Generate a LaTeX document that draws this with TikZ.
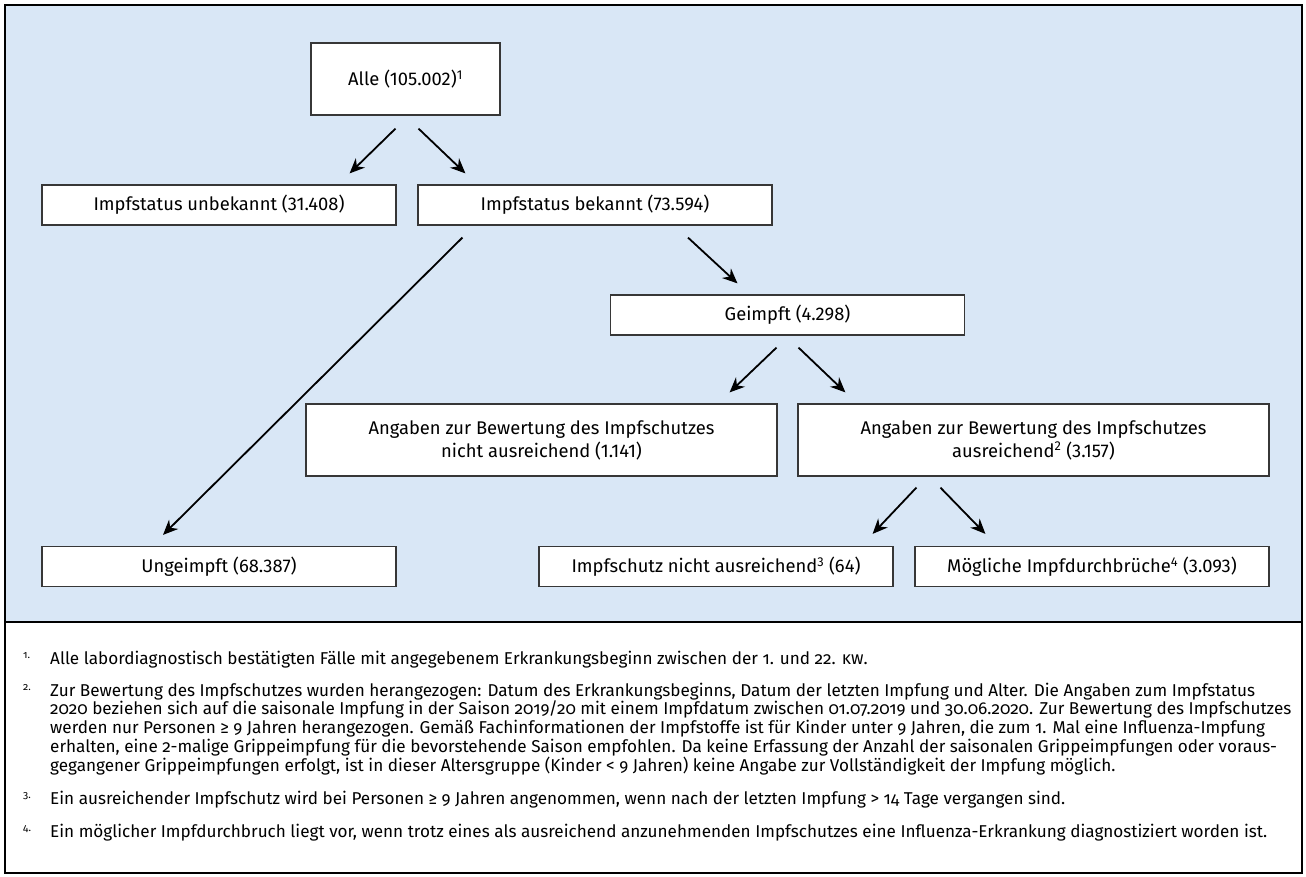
\documentclass[tikz,border=0pt]{standalone}
\usepackage{fontspec}
\setmainfont{Fira Sans}
\newfontfamily\notefont[Numbers=OldStyle]{Fira Sans}
\usepackage{tikz}
\usetikzlibrary{arrows.meta}
\definecolor{panelblue}{RGB}{217,231,246}
\definecolor{boxgray}{RGB}{55,55,55}
\newlength\probewd
\tikzset{
  flow-box/.style={draw=boxgray, line width=1.2pt, fill=white,
    minimum width=354pt, minimum height=40pt, inner sep=0pt,
    font=\fontsize{\boxsize}{23}\selectfont, align=center},
  wide-box/.style={flow-box, minimum width=471pt, minimum height=72pt},
  flow-arrow/.style={-{Stealth[length=15pt,width=13pt]}, line width=1.8pt, draw=black},
  note-mark/.style={font=\notefont\fontsize{10.5}{10.5}\selectfont, anchor=base west, inner sep=0pt},
  note-text/.style={font=\notefont\fontsize{\notesize}{18.7}\selectfont, align=left,
    anchor=base west, inner sep=0pt}
}

\begin{document}
% font sizes fitted to the measured text widths of the reference
\settowidth\probewd{\fontsize{10}{10}\selectfont Impfstatus unbekannt (31.408)}
\pgfmathsetmacro\boxsize{10*251/\probewd}
\settowidth\probewd{\notefont\fontsize{10}{10}\selectfont Ein möglicher Impfdurchbruch liegt vor, wenn trotz eines als ausreichend anzunehmenden Impfschutzes eine Influenza-Erkrankung diagnostiziert worden ist.}
\pgfmathsetmacro\notesizea{10*1217/\probewd}
\settowidth\probewd{\notefont\fontsize{10}{10}\selectfont Zur Bewertung des Impfschutzes wurden herangezogen: Datum des Erkrankungsbeginns, Datum der letzten Impfung und Alter. Die Angaben zum Impfstatus}
\pgfmathsetmacro\notesizeb{10*1218/\probewd}
\pgfmathsetmacro\notesize{min(\notesizea,\notesizeb)}
\begin{tikzpicture}[x=1pt,y=-1pt]
\useasboundingbox (0,0) rectangle (1306,877);
% blue panel for the flow chart, white strip for the notes
\fill[panelblue] (5,5) rectangle (1302,622);
\draw[line width=1.4pt] (5,5) rectangle (1302,873);
\draw[line width=1.4pt] (5,622) -- (1302,622);
% boxes of the flow chart
\node[flow-box, minimum width=189pt, minimum height=72pt] (alle) at (405.5,79) {Alle (105.002)\textsuperscript{1}};
\node[flow-box] (unbekannt) at (219,205) {Impfstatus unbekannt (31.408)};
\node[flow-box] (bekannt)   at (595,205) {Impfstatus bekannt (73.594)};
\node[flow-box] (geimpft)   at (787.5,315) {Geimpft (4.298)};
\node[wide-box] (nichtausr) at (541.5,440) {Angaben zur Bewertung des Impfschutzes\\nicht ausreichend (1.141)};
\node[wide-box] (ausr)      at (1033.5,440) {Angaben zur Bewertung des Impfschutzes\\ausreichend\textsuperscript{2} (3.157)};
\node[flow-box] (ungeimpft) at (219,566.5) {Ungeimpft (68.387)};
\node[flow-box] (schutznicht) at (716,566.5) {Impfschutz nicht ausreichend\textsuperscript{3} (64)};
\node[flow-box] (durchbruch)  at (1092,566.5) {Mögliche Impfdurchbrüche\textsuperscript{4} (3.093)};
% arrows, free-standing between the boxes
\draw[flow-arrow] ([xshift=-10pt,yshift=-13pt]alle.south) -- ([xshift=-47pt,yshift=11pt]unbekannt.north east);
\draw[flow-arrow] ([xshift=13pt,yshift=-13pt]alle.south) -- ([xshift=48pt,yshift=11pt]bekannt.north west);
\draw[flow-arrow] ([xshift=45pt,yshift=-12pt]bekannt.south west) -- ([xshift=-56pt,yshift=11pt]ungeimpft.north);
\draw[flow-arrow] ([xshift=93pt,yshift=-12pt]bekannt.south) -- ([xshift=-50pt,yshift=11pt]geimpft.north);
\draw[flow-arrow] ([xshift=-11pt,yshift=-12pt]geimpft.south) -- ([xshift=-48pt,yshift=11pt]nichtausr.north east);
\draw[flow-arrow] ([xshift=11pt,yshift=-12pt]geimpft.south) -- ([xshift=48pt,yshift=11pt]ausr.north west);
\draw[flow-arrow] ([xshift=119pt,yshift=-11pt]ausr.south west) -- ([xshift=-21pt,yshift=12pt]schutznicht.north east);
\draw[flow-arrow] ([xshift=143pt,yshift=-11pt]ausr.south west) -- ([xshift=71pt,yshift=12pt]durchbruch.north west);
% notes (marks sit raised; the base of a multi-line note is its last line)
\node[note-mark] (m1) at (23,658) {1.};
\node[note-text] (n1) at (50,664) {Alle labordiagnostisch bestätigten Fälle mit angegebenem Erkrankungsbeginn zwischen der 1. und 22. \textsc{kw}.};
\node[note-mark] (m2) at (23,690) {2.};
\node[note-text] (n2) at (50,771) {Zur Bewertung des Impfschutzes wurden herangezogen: Datum des Erkrankungsbeginns, Datum der letzten Impfung und Alter. Die Angaben zum Impfstatus\\
2020 beziehen sich auf die saisonale Impfung in der Saison 2019/20 mit einem Impfdatum zwischen 01.07.2019 und 30.06.2020. Zur Bewertung des Impfschutzes\\
werden nur Personen ≥ 9 Jahren herangezogen. Gemäß Fachinformationen der Impfstoffe ist für Kinder unter 9 Jahren, die zum 1. Mal eine Influenza-Impfung\\
erhalten, eine 2-malige Grippeimpfung für die bevorstehende Saison empfohlen. Da keine Erfassung der Anzahl der saisonalen Grippeimpfungen oder voraus-\\
gegangener Grippeimpfungen erfolgt, ist in dieser Altersgruppe (Kinder < 9 Jahren) keine Angabe zur Vollständigkeit der Impfung möglich.};
\node[note-mark] (m3) at (23,798) {3.};
\node[note-text] (n3) at (50,804) {Ein ausreichender Impfschutz wird bei Personen ≥ 9 Jahren angenommen, wenn nach der letzten Impfung > 14 Tage vergangen sind.};
\node[note-mark] (m4) at (23,831) {4.};
\node[note-text] (n4) at (50,837) {Ein möglicher Impfdurchbruch liegt vor, wenn trotz eines als ausreichend anzunehmenden Impfschutzes eine Influenza-Erkrankung diagnostiziert worden ist.};
\end{tikzpicture}
\end{document}
